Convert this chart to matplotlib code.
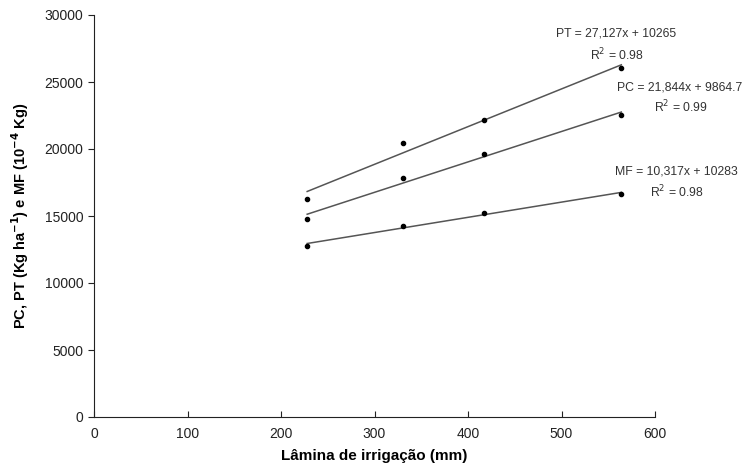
import numpy as np
import matplotlib
matplotlib.use('agg')
import matplotlib.pyplot as plt

plt.rcParams['font.family'] = ['Liberation Sans Narrow', 'Liberation Sans', 'DejaVu Sans']

# irrigation depth (mm)
lamina = [228, 330, 417, 564]
# values
pt = [16300, 20440, 22180, 26040]
pc = [14760, 17870, 19600, 22530]
mf = [12790, 14260, 15210, 16650]

equations = ["PT = 27,127x + 10265", "PC = 21,844x + 9864.7", "MF = 10,317x + 10283"]
r2_labels = ["R$^2$ = 0.98", "R$^2$ = 0.99", "R$^2$ = 0.98"]

W, H = 749, 474
fig = plt.figure(figsize=(W / 100, H / 100), dpi=100)
ax = fig.add_axes([94 / W, 1 - 417 / H, (655 - 94) / W, (417 - 15) / H])

x = np.array(lamina)
for series in (pt, pc, mf):
    y = np.array(series)
    m, b = np.polyfit(x, y, 1)
    ax.plot(x, m * x + b, color='#555555', lw=1.1)
    ax.plot(x, y, 'o', color='black', markersize=3)

ax.set_xlim(0, 600)
ax.set_ylim(0, 30000)
ax.set_xticks(range(0, 700, 100))
ax.set_yticks(range(0, 35000, 5000))
ax.spines['top'].set_visible(False)
ax.spines['right'].set_visible(False)
ax.spines['left'].set_color('#222222')
ax.spines['bottom'].set_color('#222222')
ax.tick_params(axis='y', direction='out', length=4, labelsize=10, colors='#222222')
ax.tick_params(axis='x', direction='in', length=4, labelsize=10, colors='#222222', pad=7)

ax.set_xlabel("Lâmina de irrigação (mm)", fontsize=11, fontweight='bold', labelpad=6)
ax.set_ylabel("PC, PT (Kg ha$^{\\mathbf{-1}}$) e MF (10$^{\\mathbf{-4}}$ Kg)", fontsize=10.5,
              fontweight='bold', labelpad=10)

# equation labels (pixel positions of the reference)
eq_pos = [(616, 33), (680, 88), (676, 172)]
r2_pos = [(617, 55), (681, 107), (677, 192)]
for txt, (px, py) in zip(equations, eq_pos):
    fig.text(px / W, 1 - py / H, txt, fontsize=8.8, ha='center', va='center', color='#333333')
for txt, (px, py) in zip(r2_labels, r2_pos):
    fig.text(px / W, 1 - py / H, txt, fontsize=8.8, ha='center', va='center', color='#333333')

fig.savefig("out.png", dpi=100)
